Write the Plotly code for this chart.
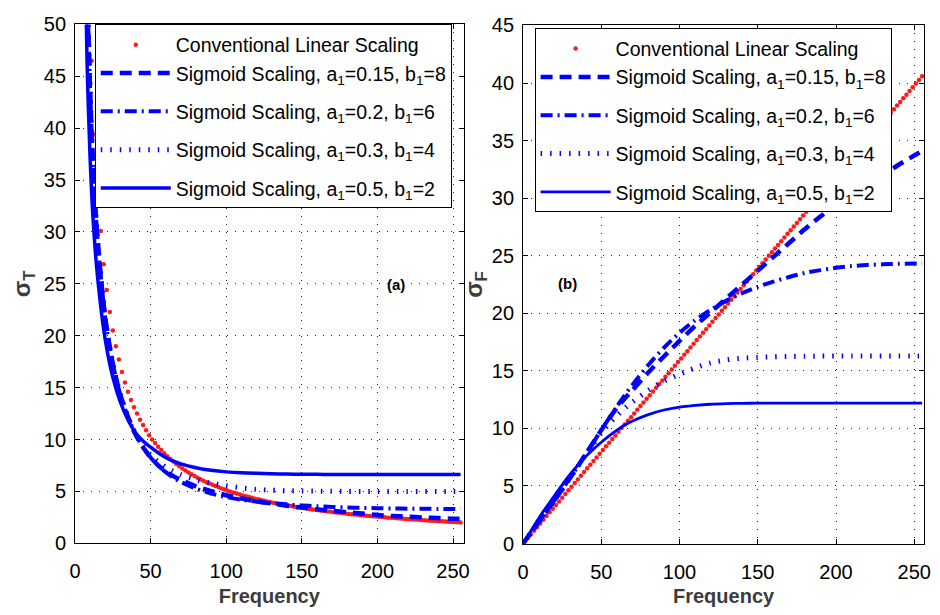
import plotly.graph_objects as go

# ---------------- data ----------------
# red dotted "Conventional Linear Scaling" samples (odd frequencies)
red_freq_left = list(range(11, 256, 2))
red_sigma_T = [46.5, 39.4, 34.1, 30.1, 26.9, 24.4, 22.3, 20.5, 19.0, 17.7, 16.5, 15.5, 14.6, 13.8, 13.1,
               12.5, 11.9, 11.4, 10.9, 10.4, 10.0, 9.66, 9.31, 8.98, 8.68, 8.39, 8.13, 7.88, 7.64, 7.42,
               7.21, 7.01, 6.83, 6.65, 6.48, 6.32, 6.17, 6.02, 5.89, 5.75, 5.63, 5.51, 5.39, 5.28, 5.17,
               5.07, 4.97, 4.88, 4.79, 4.70, 4.61, 4.53, 4.45, 4.38, 4.30, 4.23, 4.16, 4.10, 4.03, 3.97,
               3.91, 3.85, 3.79, 3.74, 3.68, 3.63, 3.58, 3.53, 3.48, 3.44, 3.39, 3.35, 3.30, 3.26, 3.22,
               3.18, 3.14, 3.10, 3.07, 3.03, 2.99, 2.96, 2.93, 2.89, 2.86, 2.83, 2.80, 2.77, 2.74, 2.71,
               2.68, 2.65, 2.63, 2.60, 2.57, 2.55, 2.52, 2.50, 2.47, 2.45, 2.43, 2.40, 2.38, 2.36, 2.34,
               2.32, 2.30, 2.28, 2.26, 2.24, 2.22, 2.20, 2.18, 2.16, 2.14, 2.12, 2.11, 2.09, 2.07, 2.06,
               2.04, 2.02, 2.01]

red_freq_right = list(range(1, 256, 2))
red_sigma_F = [0.16, 0.48, 0.80, 1.11, 1.43, 1.75, 2.07, 2.39, 2.71, 3.02, 3.34, 3.66, 3.98, 4.30, 4.62,
               4.93, 5.25, 5.57, 5.89, 6.21, 6.53, 6.84, 7.16, 7.48, 7.80, 8.12, 8.44, 8.75, 9.07, 9.39,
               9.71, 10.03, 10.35, 10.66, 10.98, 11.30, 11.62, 11.94, 12.25, 12.57, 12.89, 13.21, 13.53,
               13.85, 14.16, 14.48, 14.80, 15.12, 15.44, 15.76, 16.07, 16.39, 16.71, 17.03, 17.35, 17.67,
               17.98, 18.30, 18.62, 18.94, 19.26, 19.58, 19.89, 20.21, 20.53, 20.85, 21.17, 21.49, 21.80,
               22.12, 22.44, 22.76, 23.08, 23.40, 23.71, 24.03, 24.35, 24.67, 24.99, 25.31, 25.62, 25.94,
               26.26, 26.58, 26.90, 27.22, 27.53, 27.85, 28.17, 28.49, 28.81, 29.12, 29.44, 29.76, 30.08,
               30.40, 30.72, 31.03, 31.35, 31.67, 31.99, 32.31, 32.63, 32.94, 33.26, 33.58, 33.90, 34.22,
               34.54, 34.85, 35.17, 35.49, 35.81, 36.13, 36.45, 36.76, 37.08, 37.40, 37.72, 38.04, 38.36,
               38.67, 38.99, 39.31, 39.63, 39.95, 40.27, 40.58]

# sigmoid scaling curves, panel (a): sigma_T
freq_left = [6, 8, 10, 12, 15, 20, 25, 30, 35, 40, 45, 50, 55, 60, 65, 70, 80, 90, 100, 110, 120, 130,
             140, 150, 160, 170, 180, 190, 200, 210, 220, 230, 240, 250, 255]
sT_a015_b8 = [72.8, 54.3, 43.6, 36.2, 29.1, 21.7, 17.3, 14.3, 12.2, 10.5, 9.26, 8.27, 7.51, 6.91, 6.47,
              6.10, 5.49, 5.02, 4.63, 4.31, 4.05, 3.83, 3.62, 3.44, 3.27, 3.12, 2.99, 2.86, 2.72, 2.63,
              2.56, 2.49, 2.43, 2.37, 2.35]
sT_a02_b6 = [72.8, 54.3, 43.6, 36.2, 29.1, 21.7, 17.3, 14.3, 12.2, 10.5, 9.26, 8.27, 7.48, 6.85, 6.32,
             5.91, 5.26, 4.79, 4.45, 4.20, 4.01, 3.86, 3.75, 3.65, 3.57, 3.50, 3.45, 3.41, 3.38, 3.35,
             3.33, 3.32, 3.31, 3.30, 3.30]
sT_a03_b4 = [72.8, 54.3, 43.6, 36.2, 29.1, 21.7, 17.3, 14.3, 12.2, 10.6, 9.42, 8.49, 7.84, 7.34, 6.94,
             6.63, 6.13, 5.78, 5.54, 5.34, 5.19, 5.11, 5.06, 5.04, 5.02, 5.01, 5.00, 5.00, 5.00, 5.00,
             5.00, 5.00, 5.00, 5.00, 5.00]
sT_a05_b2 = [61.3, 46.0, 37.0, 31.1, 25.5, 19.6, 16.0, 13.6, 11.9, 10.65, 9.85, 9.26, 8.72, 8.27, 7.91,
             7.65, 7.28, 7.03, 6.88, 6.79, 6.74, 6.70, 6.67, 6.65, 6.64, 6.63, 6.62, 6.62, 6.62, 6.62,
             6.62, 6.62, 6.62, 6.62, 6.62]

# sigmoid scaling curves, panel (b): sigma_F
freq_right = [0, 5, 10, 15, 20, 25, 30, 35, 40, 45, 50, 55, 60, 65, 70, 80, 90, 100, 110, 120, 130, 140,
              150, 160, 170, 180, 190, 200, 210, 220, 230, 240, 250, 255]
sF_a015_b8 = [0, 0.93, 1.87, 2.8, 3.75, 4.7, 5.7, 6.7, 7.75, 8.8, 9.85, 10.85, 11.8, 12.6, 13.35, 14.85,
              16.25, 17.6, 18.9, 20.1, 21.3, 22.5, 23.7, 24.9, 26.1, 27.3, 28.4, 29.4, 30.3, 31.2, 32.0,
              32.9, 33.7, 34.1]
sF_a02_b6 = [0, 0.93, 1.87, 2.8, 3.75, 4.7, 5.7, 6.7, 7.75, 8.8, 9.85, 10.9, 11.9, 12.9, 13.8, 15.5,
             17.0, 18.3, 19.4, 20.3, 21.1, 21.75, 22.3, 22.75, 23.15, 23.5, 23.75, 23.95, 24.1, 24.2,
             24.25, 24.3, 24.32, 24.33]
sF_a03_b4 = [0, 0.93, 1.87, 2.8, 3.75, 4.7, 5.7, 6.7, 7.7, 8.65, 9.6, 10.4, 11.1, 11.75, 12.3, 13.3,
             14.1, 14.7, 15.25, 15.7, 15.95, 16.1, 16.17, 16.22, 16.25, 16.27, 16.28, 16.29, 16.3, 16.3,
             16.3, 16.3, 16.3, 16.3]
sF_a05_b2 = [0, 1.1, 2.2, 3.2, 4.15, 5.1, 6.0, 6.8, 7.55, 8.2, 8.8, 9.35, 9.85, 10.3, 10.65, 11.2,
             11.6, 11.85, 12.0, 12.1, 12.15, 12.18, 12.19, 12.2, 12.2, 12.2, 12.2, 12.2, 12.2, 12.2,
             12.2, 12.2, 12.2, 12.2]

names = ["Conventional Linear Scaling",
         "Sigmoid Scaling, a<sub>1</sub>=0.15, b<sub>1</sub>=8",
         "Sigmoid Scaling, a<sub>1</sub>=0.2, b<sub>1</sub>=6",
         "Sigmoid Scaling, a<sub>1</sub>=0.3, b<sub>1</sub>=4",
         "Sigmoid Scaling, a<sub>1</sub>=0.5, b<sub>1</sub>=2"]

FONT = "Liberation Sans, Arial, Helvetica, sans-serif"
BLUE = "#0000ff"
RED = "#ff1a1a"

dash_style = dict(dashed="12px,7px", dashdot="12px,5px,2px,5px", dotted="1.5px,8px")
groups = ["g0", "g0", "g2", "g3", "g4"]

fig = go.Figure()


def add_panel(xa, ya, leg, rx, ry, fx, curves, solid_w):
    fig.add_trace(go.Scatter(x=rx, y=ry, mode="markers", name=names[0], xaxis=xa, yaxis=ya, legend=leg,
                             marker=dict(color=RED, size=4.5), legendgroup=leg + groups[0]))
    styles = [("dashed", 4.5), ("dashdot", 4.0), ("dotted", 5.0), ("solid", solid_w)]
    for i, (vals, (st, w)) in enumerate(zip(curves, styles)):
        dash = "solid" if st == "solid" else dash_style[st]
        fig.add_trace(go.Scatter(x=fx, y=vals, mode="lines", name=names[i + 1], xaxis=xa, yaxis=ya,
                                 legend=leg, line=dict(color=BLUE, width=w, dash=dash, shape="spline",
                                                       smoothing=0.8),
                                 legendgroup=leg + groups[i + 1]))


add_panel("x", "y", "legend", red_freq_left, red_sigma_T, freq_left,
          [sT_a015_b8, sT_a02_b6, sT_a03_b4, sT_a05_b2], 3.5)
add_panel("x2", "y2", "legend2", red_freq_right, red_sigma_F, freq_right,
          [sF_a015_b8, sF_a02_b6, sF_a03_b4, sF_a05_b2], 2.8)

axis_common = dict(showline=True, linecolor="black", linewidth=1, mirror="ticks", ticks="inside",
                   ticklen=5, tickcolor="black", showgrid=True, gridcolor="#222222", gridwidth=1,
                   griddash="1px,7px", zeroline=False, tickfont=dict(family=FONT, size=20, color="black"))

xtitle = dict(text="<b>Frequency</b>", font=dict(family=FONT, size=20, color="#3c3c3c"), standoff=7)
leg_common = dict(xanchor="left", yanchor="top", bgcolor="white", bordercolor="black", borderwidth=1,
                  font=dict(family=FONT, size=19.5, color="black"), itemwidth=70, tracegroupgap=10,
                  traceorder="grouped", entrywidth=291, entrywidthmode="pixels")

fig.update_layout(
    width=940, height=615, margin=dict(l=0, r=0, t=0, b=0),
    paper_bgcolor="white", plot_bgcolor="white",
    font=dict(family=FONT, color="black"),
    xaxis=dict(axis_common, domain=[0.07447, 0.49362], range=[0, 257], tickvals=[0, 50, 100, 150, 200, 250],
               title=xtitle, anchor="y", ticklabelstandoff=10),
    yaxis=dict(axis_common, domain=[0.10244, 0.97724], range=[0, 50], tickvals=list(range(0, 51, 5)),
               title=dict(text="<b>σ<sub>T</sub></b>", font=dict(family=FONT, size=24, color="#3c3c3c"),
                          standoff=6), anchor="x", ticklabelstandoff=4),
    xaxis2=dict(axis_common, domain=[0.55777, 0.99043], range=[0, 256.3],
                tickvals=[0, 50, 100, 150, 200, 250], title=xtitle, anchor="y2", ticklabelstandoff=10),
    yaxis2=dict(axis_common, domain=[0.10195, 0.97561], range=[0, 45], tickvals=list(range(0, 46, 5)),
                title=dict(text="<b>σ<sub>F</sub></b>", font=dict(family=FONT, size=24, color="#3c3c3c"),
                           standoff=2), anchor="x2", ticklabelstandoff=4),
    legend=dict(leg_common, x=90 / 940, y=1 - 14 / 615),
    legend2=dict(leg_common, x=536 / 940, y=1 - 18 / 615),
    annotations=[
        dict(x=212, y=24.9, xref="x", yref="y", text="<b>(a)</b>", showarrow=False,
             font=dict(family=FONT, size=15, color="black")),
        dict(x=28.3, y=22.6, xref="x2", yref="y2", text="<b>(b)</b>", showarrow=False,
             font=dict(family=FONT, size=15, color="black")),
    ],
)

fig.write_html("out.html")
